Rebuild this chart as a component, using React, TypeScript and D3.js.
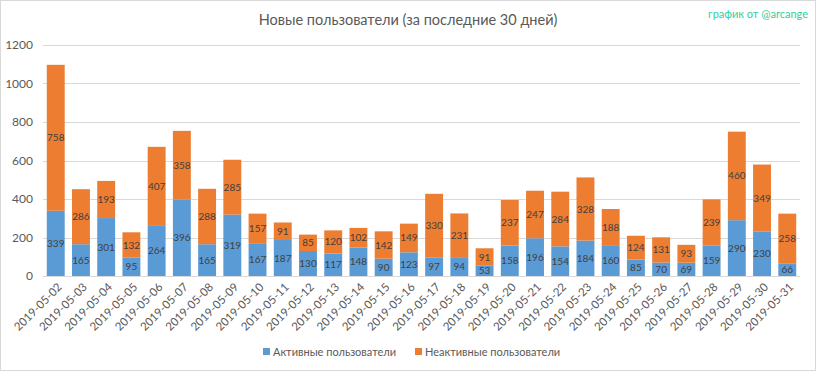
import React, { useRef, useEffect } from 'react';
import * as d3 from 'd3';

const dates = [
  '2019-05-02', '2019-05-03', '2019-05-04', '2019-05-05', '2019-05-06', '2019-05-07',
  '2019-05-08', '2019-05-09', '2019-05-10', '2019-05-11', '2019-05-12', '2019-05-13',
  '2019-05-14', '2019-05-15', '2019-05-16', '2019-05-17', '2019-05-18', '2019-05-19',
  '2019-05-20', '2019-05-21', '2019-05-22', '2019-05-23', '2019-05-24', '2019-05-25',
  '2019-05-26', '2019-05-27', '2019-05-28', '2019-05-29', '2019-05-30', '2019-05-31',
];
const active = [339, 165, 301, 95, 264, 396, 165, 319, 167, 187, 130, 117, 148, 90, 123,
  97, 94, 53, 158, 196, 154, 184, 160, 85, 70, 69, 159, 290, 230, 66];
const inactive = [758, 286, 193, 132, 407, 358, 288, 285, 157, 91, 85, 120, 102, 142, 149,
  330, 231, 91, 237, 247, 284, 328, 188, 124, 131, 93, 239, 460, 349, 258];
const yTicks = [0, 200, 400, 600, 800, 1000, 1200];
const seriesNames = ['Активные пользователи', 'Неактивные пользователи'];
const colors = ['#5b9bd5', '#ed7d31'];

const W = 816;
const H = 371;
const FONT = 'Lato, "Open Sans", sans-serif';

const App: React.FC = () => {
  const svgRef = useRef<SVGSVGElement>(null);

  useEffect(() => {
    if (!svgRef.current) return;
    document.body.style.margin = '0';
    const svg = d3.select(svgRef.current);
    svg.selectAll('*').remove();

    const margin = { top: 45, right: 16, bottom: 95, left: 43 };
    const width = W - margin.left - margin.right;
    const height = H - margin.top - margin.bottom;

    // background + border
    svg.append('rect')
      .attr('x', 0.5).attr('y', 0.5)
      .attr('width', W - 1).attr('height', H - 1)
      .attr('fill', '#fff')
      .attr('stroke', '#d9d9d9');

    const g = svg.append('g').attr('transform', `translate(${margin.left},${margin.top})`);

    const x = d3.scaleBand().domain(dates).range([0, width]).paddingInner(0.29).paddingOuter(0.15);
    const y = d3.scaleLinear().domain([0, 1200]).range([height, 0]);

    // gridlines
    g.selectAll('.grid')
      .data(yTicks)
      .enter()
      .append('line')
      .attr('x1', 0).attr('x2', width)
      .attr('y1', d => Math.round(y(d)) + 0.5)
      .attr('y2', d => Math.round(y(d)) + 0.5)
      .attr('stroke', '#d9d9d9');

    // y labels
    g.selectAll('.ylab')
      .data(yTicks)
      .enter()
      .append('text')
      .attr('x', -10)
      .attr('y', d => y(d))
      .attr('dy', '0.35em')
      .attr('text-anchor', 'end')
      .attr('font-family', FONT)
      .attr('font-size', '12px')
      .attr('fill', '#595959')
      .text(d => d);

    const stackData = dates.map((d, i) => ({ date: d, a: active[i], b: inactive[i] }));
    const stack = d3.stack<any>().keys(['a', 'b'])(stackData);

    stack.forEach((layer, li) => {
      g.selectAll(`.bar${li}`)
        .data(layer)
        .enter()
        .append('rect')
        .attr('x', d => x(d.data.date)!)
        .attr('width', x.bandwidth())
        .attr('y', d => y(d[1]))
        .attr('height', d => y(d[0]) - y(d[1]))
        .attr('fill', colors[li]);

      g.selectAll(`.lab${li}`)
        .data(layer)
        .enter()
        .append('text')
        .attr('x', d => x(d.data.date)! + x.bandwidth() / 2)
        .attr('y', d => (y(d[0]) + y(d[1])) / 2)
        .attr('dy', '0.35em')
        .attr('text-anchor', 'middle')
        .attr('font-family', FONT)
        .attr('font-size', '10px')
        .attr('fill', '#404040')
        .text(d => d[1] - d[0]);
    });

    // axis line
    g.append('line')
      .attr('x1', 0).attr('x2', width)
      .attr('y1', Math.round(height) + 0.5).attr('y2', Math.round(height) + 0.5)
      .attr('stroke', '#d9d9d9');

    // x labels rotated
    g.selectAll('.xlab')
      .data(dates)
      .enter()
      .append('text')
      .attr('transform', d => `translate(${x(d)! + x.bandwidth() / 2 + 4},${height + 9}) rotate(-45)`)
      .attr('text-anchor', 'end')
      .attr('dy', '0.35em')
      .attr('font-family', FONT)
      .attr('font-size', '11.5px')
      .attr('fill', '#595959')
      .text(d => d);

    // title
    svg.append('text')
      .attr('x', 408).attr('y', 25)
      .attr('text-anchor', 'middle')
      .attr('font-family', FONT)
      .attr('font-size', '14.5px')
      .attr('fill', '#595959')
      .text('Новые пользователи (за последние 30 дней)');

    svg.append('text')
      .attr('x', 808).attr('y', 18)
      .attr('text-anchor', 'end')
      .attr('font-family', FONT)
      .attr('font-size', '11px')
      .attr('fill', '#2ecf9f')
      .text('график от @arcange');

    // legend
    const legendX = [263, 415];
    seriesNames.forEach((name, i) => {
      svg.append('rect')
        .attr('x', legendX[i]).attr('y', 348)
        .attr('width', 7).attr('height', 7)
        .attr('fill', colors[i]);
      svg.append('text')
        .attr('x', legendX[i] + 10).attr('y', 352)
        .attr('dy', '0.35em')
        .attr('font-family', FONT)
        .attr('font-size', '11px')
        .attr('fill', '#595959')
        .text(name);
    });
  }, []);

  return (
    <div style={{ position: 'absolute', left: 0, top: 0 }}>
      <svg ref={svgRef} width={W} height={H} style={{ display: 'block' }}></svg>
    </div>
  );
};

export default App;
